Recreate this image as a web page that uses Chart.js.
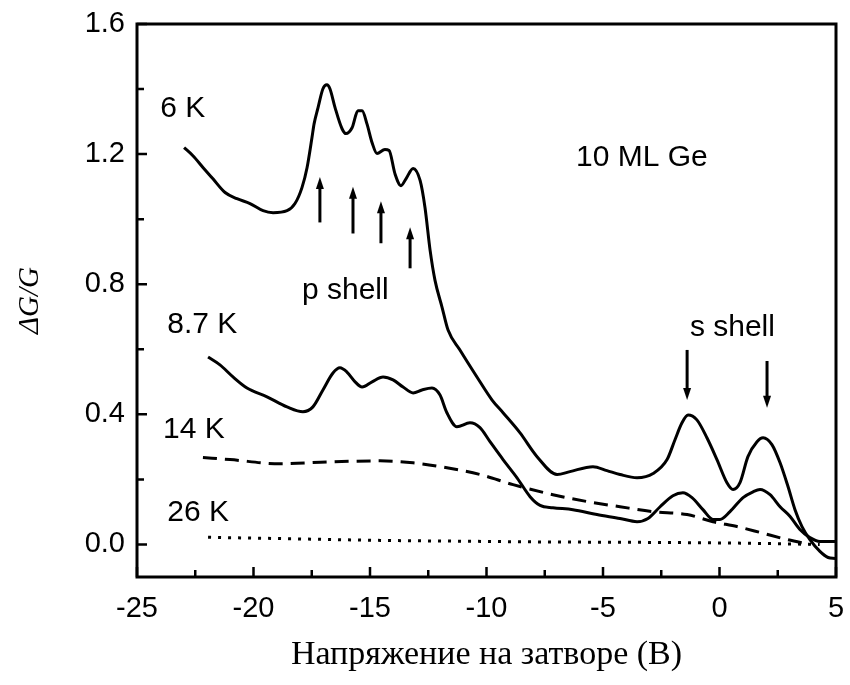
<!DOCTYPE html>
<html>
<head>
<meta charset="utf-8">
<title>ΔG/G</title>
<script src="https://cdn.jsdelivr.net/npm/chart.js@4.4.1/dist/chart.umd.min.js"></script>
<style>
  html, body { margin: 0; padding: 0; background: #fff; }
  #wrap { width: 850px; height: 685px; }
</style>
</head>
<body>
<div id="wrap"><canvas id="graficaG" width="850" height="685"></canvas></div>
<script>
// 6 K
const volt6K = [-22.98, -22.60, -22.17, -21.74, -21.22, -20.71, -20.15, -19.59, -19.16, -18.56, -18.22, -17.92, -17.70, -17.49, -17.40, -17.23, -17.02, -16.85, -16.72, -16.50, -16.20, -16.03, -15.77, -15.52, -15.34, -15.13, -14.91, -14.70, -14.36, -14.18, -13.93, -13.67, -13.45, -13.15, -12.85, -12.64, -12.42, -12.21, -11.91, -11.65, -11.14, -10.41, -9.76, -9.29, -8.56, -7.83, -6.97, -6.42, -5.43, -4.83, -4.27, -3.54, -2.85, -2.25, -1.91, -1.61, -1.35, -0.97, -0.54, -0.11, 0.32, 0.58, 0.88, 1.22, 1.61, 1.87, 2.25, 2.60, 2.94, 3.24, 3.54, 3.88, 4.31, 4.66, 4.96];
const dg6K = [1.220, 1.195, 1.159, 1.124, 1.082, 1.063, 1.048, 1.026, 1.020, 1.026, 1.048, 1.097, 1.159, 1.251, 1.293, 1.343, 1.401, 1.413, 1.401, 1.343, 1.278, 1.263, 1.281, 1.333, 1.333, 1.293, 1.235, 1.202, 1.214, 1.211, 1.140, 1.103, 1.125, 1.156, 1.119, 1.036, 0.904, 0.812, 0.730, 0.659, 0.598, 0.515, 0.444, 0.405, 0.343, 0.270, 0.215, 0.224, 0.239, 0.227, 0.215, 0.205, 0.218, 0.261, 0.322, 0.374, 0.398, 0.383, 0.328, 0.261, 0.190, 0.169, 0.190, 0.270, 0.316, 0.328, 0.307, 0.251, 0.178, 0.107, 0.055, 0.015, -0.021, -0.040, -0.043];

// 8.7 K
const volt87K = [-21.95, -21.44, -20.88, -20.28, -19.42, -18.56, -17.88, -17.45, -17.02, -16.59, -16.29, -15.99, -15.64, -15.34, -14.91, -14.44, -14.01, -13.58, -13.15, -12.77, -12.34, -12.00, -11.70, -11.27, -10.71, -10.28, -9.85, -9.29, -8.69, -8.13, -7.70, -7.15, -6.29, -5.26, -4.27, -3.54, -3.07, -2.55, -2.00, -1.57, -1.18, -0.71, -0.28, 0.02, 0.45, 1.01, 1.44, 1.74, 2.17, 2.60, 3.03, 3.45, 3.88, 4.31, 4.96];
const dg87K = [0.576, 0.552, 0.515, 0.481, 0.454, 0.423, 0.408, 0.423, 0.475, 0.527, 0.543, 0.530, 0.500, 0.484, 0.500, 0.515, 0.506, 0.484, 0.466, 0.475, 0.481, 0.460, 0.405, 0.362, 0.374, 0.359, 0.316, 0.261, 0.205, 0.147, 0.120, 0.113, 0.107, 0.092, 0.080, 0.070, 0.080, 0.116, 0.150, 0.159, 0.144, 0.107, 0.077, 0.077, 0.101, 0.144, 0.162, 0.169, 0.153, 0.116, 0.086, 0.046, 0.021, 0.009, 0.009];

// 14 K
const volt14K = [-22.17, -21.01, -18.86, -16.72, -14.57, -13.15, -11.70, -10.28, -8.86, -7.15, -5.69, -4.27, -2.85, -1.39, -0.28, 0.75, 1.74, 2.90, 3.88];
const dg14K = [0.267, 0.261, 0.248, 0.254, 0.257, 0.251, 0.236, 0.215, 0.184, 0.153, 0.132, 0.116, 0.101, 0.092, 0.070, 0.055, 0.037, 0.015, 0.000];

// 26 K
const volt26K = [-21.95, -18, -15, -11, -8, -5, -2, 1, 4.3];
const dg26K = [0.022, 0.017, 0.013, 0.010, 0.008, 0.007, 0.006, 0.004, 0.000];

const ticksY = [0, 0.4, 0.8, 1.2, 1.6];
const ticksYmenor = [0.2, 0.6, 1.0, 1.4];
const ticksX = [-25, -20, -15, -10, -5, 0, 5];
const ticksXmenor = [-22.5, -17.5, -12.5, -7.5, -2.5, 2.5];

// flechas p shell (hacia arriba) y s shell (hacia abajo): [x, y inicio, y punta]
const flechasP = [[-17.15, 0.99, 1.13], [-15.73, 0.956, 1.10], [-14.53, 0.926, 1.055], [-13.28, 0.849, 0.975]];
const flechasS = [[-1.39, 0.598, 0.444], [2.04, 0.564, 0.42]];

const textos = [
    { t: "6 K", x: -24.0, y: 1.34 },
    { t: "8.7 K", x: -23.7, y: 0.674 },
    { t: "14 K", x: -23.88, y: 0.352 },
    { t: "26 K", x: -23.7, y: 0.098 },
    { t: "10 ML Ge", x: -6.16, y: 1.189 },
    { t: "p shell", x: -17.92, y: 0.78 },
    { t: "s shell", x: -1.27, y: 0.665 }
];

const fuente = "'Liberation Sans', Arial, sans-serif";
const fuenteSerif = "'Liberation Serif', 'Times New Roman', serif";

function puntos(xs, ys) {
    return xs.map((x, i) => ({ x: x, y: ys[i] }));
}

function serie(xs, ys, dash) {
    return {
        data: puntos(xs, ys),
        borderColor: "#000",
        borderWidth: 3,
        borderDash: dash,
        pointRadius: 0,
        fill: false,
        cubicInterpolationMode: "monotone"
    };
}

// marco, marcas interiores, textos y flechas
const extras = {
    id: "extras",
    afterDatasetsDraw(chart) {
        const { ctx, chartArea: a, scales } = chart;
        const sx = scales.x, sy = scales.y;
        ctx.save();
        ctx.strokeStyle = "#000";
        ctx.fillStyle = "#000";
        ctx.lineWidth = 3;
        ctx.strokeRect(a.left, a.top, a.right - a.left, a.bottom - a.top);

        ctx.lineWidth = 2.5;
        ctx.beginPath();
        ticksY.forEach(v => { const p = sy.getPixelForValue(v); ctx.moveTo(a.left, p); ctx.lineTo(a.left + 10, p); });
        ticksYmenor.forEach(v => { const p = sy.getPixelForValue(v); ctx.moveTo(a.left, p); ctx.lineTo(a.left + 7, p); });
        ticksX.forEach(v => { const p = sx.getPixelForValue(v); ctx.moveTo(p, a.bottom); ctx.lineTo(p, a.bottom - 10); });
        ticksXmenor.forEach(v => { const p = sx.getPixelForValue(v); ctx.moveTo(p, a.bottom); ctx.lineTo(p, a.bottom - 7); });
        ctx.stroke();

        ctx.font = "30px " + fuente;
        ctx.textAlign = "left";
        ctx.textBaseline = "middle";
        textos.forEach(d => ctx.fillText(d.t, sx.getPixelForValue(d.x), sy.getPixelForValue(d.y)));

        const flecha = (x, y0, y1) => {
            const px = sx.getPixelForValue(x);
            const p0 = sy.getPixelForValue(y0);
            const p1 = sy.getPixelForValue(y1);
            const dir = p1 < p0 ? 1 : -1;
            ctx.lineWidth = 3;
            ctx.beginPath();
            ctx.moveTo(px, p0);
            ctx.lineTo(px, p1 + dir * 8);
            ctx.stroke();
            ctx.beginPath();
            ctx.moveTo(px, p1);
            ctx.lineTo(px - 4, p1 + dir * 12);
            ctx.lineTo(px + 4, p1 + dir * 12);
            ctx.closePath();
            ctx.fill();
        };
        flechasP.forEach(f => flecha(f[0], f[1], f[2]));
        flechasS.forEach(f => flecha(f[0], f[1], f[2]));
        ctx.restore();
    }
};

function crearGrafica() {
    const ctx = document.getElementById("graficaG");

    new Chart(ctx, {
        type: "line",
        data: {
            datasets: [
                serie(volt6K, dg6K, []),
                serie(volt87K, dg87K, []),
                serie(volt14K, dg14K, [14, 8]),
                serie(volt26K, dg26K, [3, 7])
            ]
        },
        options: {
            responsive: false,
            animation: false,
            layout: { padding: { left: 0, top: 24, right: 14, bottom: 0 } },
            plugins: {
                legend: { display: false },
                tooltip: { enabled: false }
            },
            scales: {
                x: {
                    type: "linear",
                    min: -25,
                    max: 5,
                    afterBuildTicks: s => { s.ticks = ticksX.map(v => ({ value: v })); },
                    afterFit: s => { s.height = 108; s.paddingLeft = 0; s.paddingRight = 0; },
                    grid: { display: false, drawTicks: false },
                    border: { display: false },
                    ticks: {
                        color: "#000",
                        padding: 15,
                        maxRotation: 0,
                        autoSkip: false,
                        font: { family: fuente, size: 29 },
                        callback: v => String(v)
                    },
                    title: {
                        display: true,
                        text: "Напряжение на затворе (В)",
                        color: "#000",
                        font: { family: fuenteSerif, size: 34 },
                        padding: { top: 0, bottom: 10 }
                    }
                },
                y: {
                    min: -0.1,
                    max: 1.6,
                    afterBuildTicks: s => { s.ticks = ticksY.map(v => ({ value: v })); },
                    afterFit: s => { s.width = 137; s.paddingTop = 0; s.paddingBottom = 0; },
                    grid: { display: false, drawTicks: false },
                    border: { display: false },
                    ticks: {
                        color: "#000",
                        padding: 12,
                        font: { family: fuente, size: 29 },
                        callback: v => v.toFixed(1)
                    },
                    title: {
                        display: true,
                        text: "ΔG/G",
                        color: "#000",
                        font: { family: fuenteSerif, size: 29, style: "italic" },
                        padding: { top: 13, bottom: 0 }
                    }
                }
            }
        },
        plugins: [extras]
    });
}

document.addEventListener("DOMContentLoaded", () => {
    crearGrafica();
});
</script>
</body>
</html>
